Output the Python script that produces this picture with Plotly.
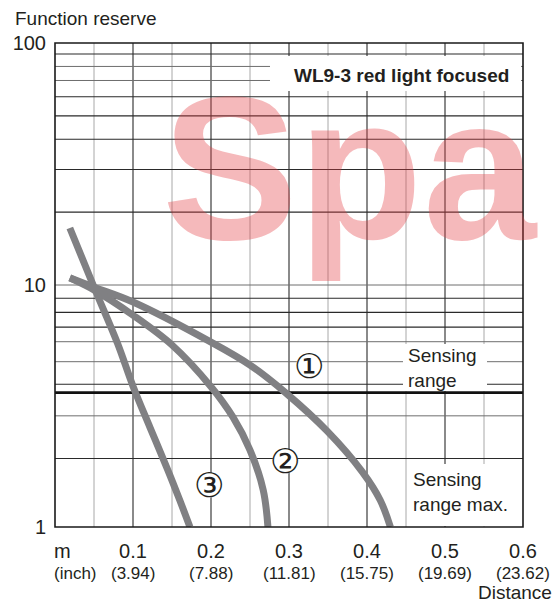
import numpy as np
import plotly.graph_objects as go

# ---------------- data ----------------
CURVE_NAMES = ["①", "②", "③"]
C1_X = [0.019, 0.051, 0.100, 0.200, 0.250, 0.296, 0.349, 0.394, 0.417, 0.430]
C1_Y = [10.7, 9.77, 8.51, 5.81, 4.67, 3.58, 2.49, 1.69, 1.29, 1.0]
C2_X = [0.019, 0.051, 0.100, 0.150, 0.200, 0.228, 0.250, 0.267, 0.273]
C2_Y = [10.7, 9.5, 7.5, 5.65, 3.8, 2.85, 2.08, 1.42, 1.0]
C3_X = [0.019, 0.051, 0.080, 0.100, 0.122, 0.144, 0.160, 0.173]
C3_Y = [17.2, 9.63, 5.76, 3.82, 2.57, 1.74, 1.29, 1.0]
LABEL_POS = [(0.325, 4.63), (0.295, 1.87), (0.197, 1.49)]

X_TICKS = [0.1, 0.2, 0.3, 0.4, 0.5, 0.6]
X_TICK_TEXT = ["0.1", "0.2", "0.3", "0.4", "0.5", "0.6"]
INCH_TEXT = ["(3.94)", "(7.88)", "(11.81)", "(15.75)", "(19.69)", "(23.62)"]
Y_TICKS = [1, 10, 100]
Y_TICK_TEXT = ["1", "10", "100"]

X_GRID_MAJOR = [0.1, 0.2, 0.3, 0.4, 0.5]
X_GRID_MINOR = [0.05, 0.15, 0.25, 0.35, 0.45, 0.55]
Y_GRID_DARK = [90, 60, 50, 40, 30, 20, 8.81, 7.71, 6.70, 3.89, 1.92]
Y_GRID_LIGHT = [80, 70, 10, 5.83, 4.82, 2.88]
SENSING_RANGE = 3.59

TITLE = "WL9-3 red light focused"
Y_TITLE = "Function reserve"
X_TITLE = "Distance"

# ---------------- layout helpers ----------------
W, H = 557, 605
L, R, T, B = 55, 523, 43, 527
FONT = "Liberation Sans"
TXT = "#231f20"
CURVE_COL = "rgb(128,128,131)"

def px2x(px):
    return (px - L) / (R - L)

def py2y(py):
    return (B - py) / (B - T)

fig = go.Figure()

for xs, ys in [(C1_X, C1_Y), (C2_X, C2_Y), (C3_X, C3_Y)]:
    fig.add_trace(go.Scatter(x=xs, y=ys, mode="lines",
                             line=dict(color=CURVE_COL, width=7, shape="spline", smoothing=1.0),
                             hoverinfo="skip", showlegend=False))

shapes = []
for v in X_GRID_MINOR:
    shapes.append(dict(type="line", xref="x", yref="paper", x0=v, x1=v, y0=0, y1=1,
                       line=dict(color="#a8a8a8", width=1), layer="below"))
for v in X_GRID_MAJOR:
    shapes.append(dict(type="line", xref="x", yref="paper", x0=v, x1=v, y0=0, y1=1,
                       line=dict(color="#3c3c3c", width=1.2), layer="below"))
for v in Y_GRID_LIGHT:
    shapes.append(dict(type="line", xref="paper", yref="y", x0=0, x1=1, y0=v, y1=v,
                       line=dict(color="#6e6e6e", width=1), layer="below"))
for v in Y_GRID_DARK:
    shapes.append(dict(type="line", xref="paper", yref="y", x0=0, x1=1, y0=v, y1=v,
                       line=dict(color="#2a2a2a", width=1.1), layer="below"))
shapes.append(dict(type="line", xref="paper", yref="y", x0=0, x1=1, y0=SENSING_RANGE, y1=SENSING_RANGE,
                   line=dict(color="#111111", width=2.6), layer="below"))

# white boxes behind the text labels
def wbox(px0, px1, py0, py1):
    return dict(type="rect", xref="paper", yref="paper",
                x0=px2x(px0), x1=px2x(px1), y0=py2y(py1), y1=py2y(py0),
                fillcolor="white", line=dict(width=0), layer="below")

shapes.append(wbox(270, 521, 56, 91))
shapes.append(wbox(403, 487, 344, 391))
shapes.append(wbox(408, 521, 464, 526))

# white discs behind the circled numbers
for (lx, ly) in LABEL_POS:
    dx = 12.5 / (R - L) * 0.6
    f = 10 ** (12.5 / ((B - T) / 2))
    shapes.append(dict(type="circle", xref="x", yref="y", x0=lx - dx, x1=lx + dx,
                       y0=ly / f, y1=ly * f, fillcolor="white", line=dict(width=0), layer="below"))

# frame
shapes.append(dict(type="rect", xref="paper", yref="paper", x0=0, x1=1, y0=0, y1=1,
                   line=dict(color="#1a1a1a", width=1.6), layer="above"))

ann = []
# watermark
ann.append(dict(text="Spa", xref="paper", yref="paper", x=px2x(350), y=py2y(168),
                xanchor="center", yanchor="middle", showarrow=False,
                font=dict(family=FONT, size=204, color="rgba(226,60,66,0.36)", weight="bold")))
ann.append(dict(text="<b>" + TITLE + "</b>", xref="paper", yref="paper", x=px2x(401), y=py2y(75),
                xanchor="center", yanchor="middle", showarrow=False,
                font=dict(family=FONT, size=19, color=TXT)))
ann.append(dict(text="Sensing<br>range", xref="paper", yref="paper", x=px2x(406), y=py2y(368),
                xanchor="left", yanchor="middle", align="left", showarrow=False,
                font=dict(family=FONT, size=19, color=TXT)))
ann.append(dict(text="Sensing<br>range max.", xref="paper", yref="paper", x=px2x(411), y=py2y(492),
                xanchor="left", yanchor="middle", align="left", showarrow=False,
                font=dict(family=FONT, size=19, color=TXT)))
for name, (lx, ly) in zip(CURVE_NAMES, LABEL_POS):
    ann.append(dict(text=name, x=lx, y=np.log10(ly), xref="x", yref="y",
                    xanchor="center", yanchor="middle", showarrow=False,
                    font=dict(family="DejaVu Sans", size=34, color=TXT)))
ann.append(dict(text=Y_TITLE, xref="paper", yref="paper", x=px2x(13), y=py2y(18),
                xanchor="left", yanchor="middle", showarrow=False,
                font=dict(family=FONT, size=19, color=TXT)))
ann.append(dict(text="m", xref="paper", yref="paper", x=px2x(52), y=py2y(551),
                xanchor="left", yanchor="middle", showarrow=False,
                font=dict(family=FONT, size=20, color=TXT)))
ann.append(dict(text="(inch)", xref="paper", yref="paper", x=px2x(52), y=py2y(573),
                xanchor="left", yanchor="middle", showarrow=False,
                font=dict(family=FONT, size=17, color=TXT)))
for v, t in zip(X_TICKS, INCH_TEXT):
    ann.append(dict(text=t, x=v, xref="x", yref="paper", y=py2y(573),
                    xanchor="center", yanchor="middle", showarrow=False,
                    font=dict(family=FONT, size=17, color=TXT)))
ann.append(dict(text=X_TITLE, xref="paper", yref="paper", x=px2x(554), y=py2y(593),
                xanchor="right", yanchor="middle", showarrow=False,
                font=dict(family=FONT, size=19, color=TXT)))

fig.update_layout(
    width=W, height=H,
    margin=dict(l=L, r=W - R, t=T, b=H - B, pad=0),
    paper_bgcolor="white", plot_bgcolor="white",
    showlegend=False,
    shapes=shapes, annotations=ann,
    font=dict(family=FONT, color=TXT),
    xaxis=dict(range=[0, 0.6], showgrid=False, zeroline=False, showline=False,
               tickmode="array", tickvals=X_TICKS, ticktext=X_TICK_TEXT, ticks="",
               tickfont=dict(family=FONT, size=20, color=TXT), ticklabelstandoff=10),
    yaxis=dict(type="log", range=[0, 2], showgrid=False, zeroline=False, showline=False,
               tickmode="array", tickvals=Y_TICKS, ticktext=Y_TICK_TEXT, ticks="",
               tickfont=dict(family=FONT, size=20, color=TXT), ticklabelstandoff=8),
)

fig.write_html("out.html", config={"displayModeBar": False, "staticPlot": True},
               post_script="document.body.style.margin='0px';document.body.style.overflow='hidden';")
